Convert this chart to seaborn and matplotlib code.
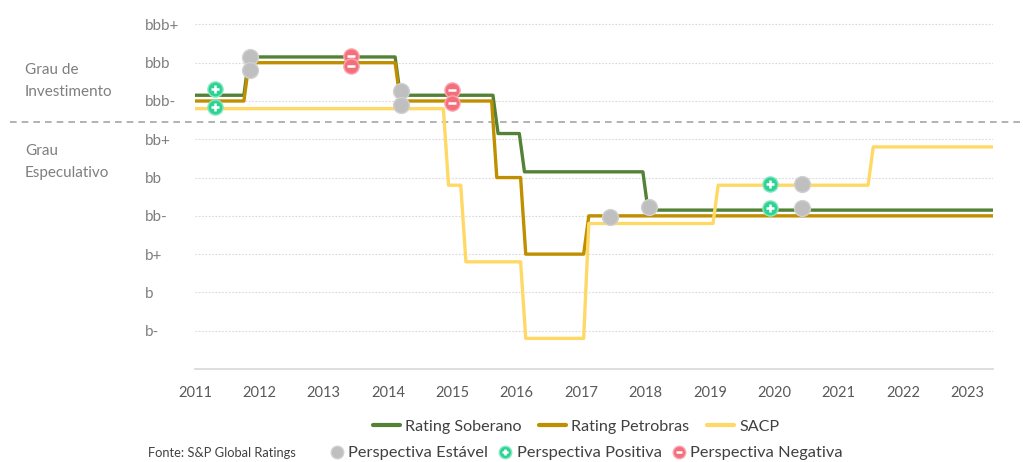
import matplotlib
matplotlib.use("Agg")
import matplotlib.pyplot as plt
from matplotlib.lines import Line2D
import pandas as pd
import seaborn as sns

# rating scale (numeric level -> label)
levels = [1, 2, 3, 4, 5, 6, 7, 8, 9]
level_labels = ["b-", "b", "b+", "bb-", "bb", "bb+", "bbb-", "bbb", "bbb+"]
years = list(range(2011, 2024))

# series: dates of rating changes and the rating held from that date on
sob_x = [2011.0, 2011.8, 2014.15, 2015.67, 2016.08, 2018.0, 2023.4]
sob_y = [7, 8, 7, 6, 5, 4, 4]
pet_x = [2011.0, 2011.8, 2014.15, 2015.65, 2016.1, 2017.08, 2023.4]
pet_y = [7, 8, 7, 5, 3, 4, 4]
sacp_x = [2011.0, 2014.9, 2015.17, 2016.1, 2017.08, 2019.09, 2021.5, 2023.4]
sacp_y = [7, 5, 3, 1, 4, 5, 6, 6]

# outlook markers (date, plotted level)
est_x = [2011.85, 2011.85, 2014.2, 2014.2, 2017.45, 2018.05, 2020.44, 2020.44]
est_y = [8.15, 7.81, 7.26, 6.9, 3.97, 4.23, 4.84, 4.21]
pos_x = [2011.31, 2011.31, 2019.94, 2019.94]
pos_y = [7.31, 6.84, 4.84, 4.2]
neg_x = [2013.43, 2013.43, 2015.0, 2015.0]
neg_y = [8.18, 7.91, 7.29, 6.95]

names = ["Rating Soberano", "Rating Petrobras", "SACP"]
colors = {"Rating Soberano": "#538135", "Rating Petrobras": "#BF8F00", "SACP": "#FFD966"}
offsets = {"Rating Soberano": 0.15, "Rating Petrobras": 0.0, "SACP": -0.2}


def step_rows(name, xs, ys, ramp=0.04):
    rows = [(xs[0], ys[0])]
    for i in range(1, len(xs)):
        if ys[i] != ys[i - 1]:
            rows.append((xs[i] - ramp, ys[i - 1]))
            rows.append((xs[i] + ramp, ys[i]))
        else:
            rows.append((xs[i], ys[i]))
    return [{"x": x, "y": y + offsets[name], "serie": name} for x, y in rows]


df = pd.DataFrame(step_rows(names[0], sob_x, sob_y)
                  + step_rows(names[1], pet_x, pet_y)
                  + step_rows(names[2], sacp_x, sacp_y))

sns.set_theme(style="white")
plt.rcParams["font.family"] = ["Lato", "DejaVu Sans"]

fig = plt.figure(figsize=(10.23, 4.62), dpi=100)
ax = fig.add_axes([0.1906, 0.2013, 0.780, 0.779])

sns.lineplot(data=df, x="x", y="y", hue="serie", palette=colors, sort=False,
             estimator=None, legend=False, lw=2.4, ax=ax, zorder=3)

GRAY = "#BFBFBF"
GREEN = "#2ED394"
RED = "#F46F7C"
sns.scatterplot(x=est_x, y=est_y, color=GRAY, edgecolor="#D0D0D0", s=130,
                linewidth=1, ax=ax, zorder=5, clip_on=False)
sns.scatterplot(x=pos_x, y=pos_y, color=GREEN, edgecolor="#8CE8C4", s=120,
                linewidth=1, ax=ax, zorder=5)
sns.scatterplot(x=pos_x, y=pos_y, marker="+", color="white", s=40,
                linewidth=1.8, ax=ax, zorder=6)
sns.scatterplot(x=neg_x, y=neg_y, color=RED, edgecolor="#F9A8B0", s=120,
                linewidth=1, ax=ax, zorder=5)
sns.scatterplot(x=neg_x, y=neg_y, marker="_", color="white", s=40,
                linewidth=1.8, ax=ax, zorder=6)

ax.set_xlim(2011, 2023.4)
ax.set_ylim(0, 9.4)
ax.set_yticks(levels)
ax.set_yticklabels(level_labels, ha="left", color="#7F7F7F", fontsize=11)
ax.tick_params(axis="y", length=0, pad=36)
ax.set_xticks(years)
ax.set_xticklabels([str(y) for y in years], color="#595959", fontsize=10.5)
ax.tick_params(axis="x", length=0, pad=12)
ax.set_xlabel("")
ax.set_ylabel("")
ax.grid(axis="y", color="#D9D9D9", linestyle=(0, (1.5, 1.5)), lw=0.8)
ax.grid(axis="x", visible=False)
for side in ["top", "right", "left"]:
    ax.spines[side].set_visible(False)
ax.spines["bottom"].set_color("#D9D9D9")

# investment / speculative divider
ax.plot([-0.232, 1.04], [6.45, 6.45], transform=ax.get_yaxis_transform(),
        color="#A6A6A6", lw=1.2, ls=(0, (4, 3)), clip_on=False, zorder=2)
fig.text(25 / 1023, 1 - 81 / 462, "Grau de\nInvestimento", color="#7F7F7F",
         fontsize=11, va="center", linespacing=1.75)
fig.text(25 / 1023, 1 - 162 / 462, "Grau\nEspeculativo", color="#7F7F7F",
         fontsize=11, va="center", linespacing=1.75)

line_handles = [Line2D([], [], color=colors[n], lw=3) for n in names]
fig.legend(line_handles, names, loc="center", bbox_to_anchor=(576 / 1023, 1 - 427 / 462),
           ncol=3, frameon=False, fontsize=11.6, handlelength=1.7,
           handletextpad=0.3, columnspacing=1.1, labelcolor="#404040")

mk = dict(ls="none", markersize=9, markeredgewidth=1)
h_est = Line2D([], [], marker="o", color=GRAY, markeredgecolor="#D0D0D0", **mk)
h_pos = (Line2D([], [], marker="o", color=GREEN, markeredgecolor="#8CE8C4", **mk),
         Line2D([], [], marker="+", color="white", ls="none", markersize=5, markeredgewidth=1.8))
h_neg = (Line2D([], [], marker="o", color=RED, markeredgecolor="#F9A8B0", **mk),
         Line2D([], [], marker="_", color="white", ls="none", markersize=5, markeredgewidth=1.8))
fig.legend([h_est, h_pos, h_neg],
           ["Perspectiva Estável", "Perspectiva Positiva", "Perspectiva Negativa"],
           loc="center", bbox_to_anchor=(587 / 1023, 1 - 453 / 462), ncol=3, frameon=False,
           fontsize=11.8, handlelength=0.7, handletextpad=0.35, columnspacing=0.7,
           labelcolor="#404040")
fig.text(148 / 1023, 1 - 453 / 462, "Fonte: S&P Global Ratings", color="#404040",
         fontsize=9.3, va="center")

fig.savefig("out.png", dpi=100)
